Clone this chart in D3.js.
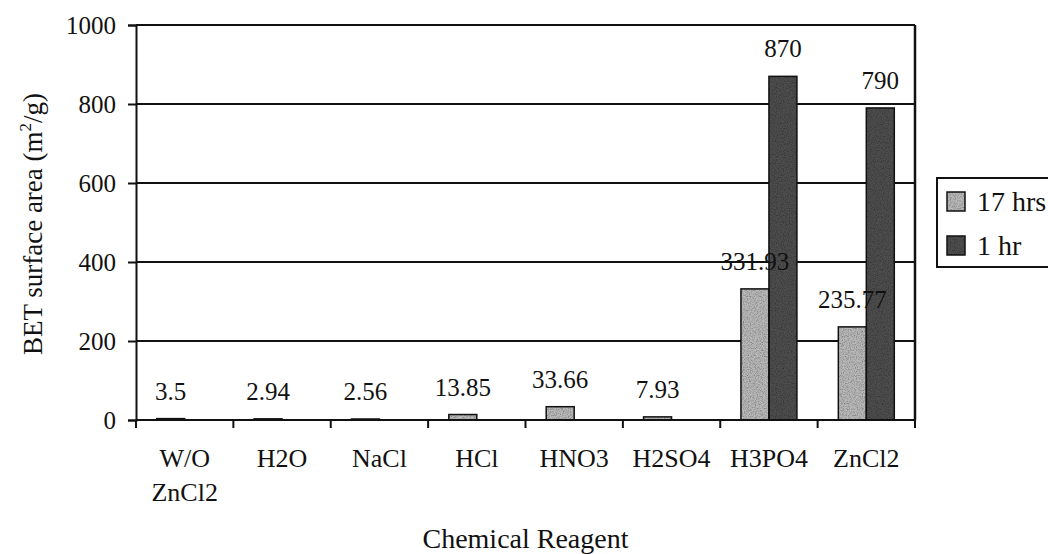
<!DOCTYPE html>
<html>
<head>
<meta charset="utf-8">
<script src="https://cdn.jsdelivr.net/npm/d3@7"></script>
<style>
  html, body { margin: 0; padding: 0; background: #fff; }
  svg { display: block; }
  text { font-family: "Liberation Serif", "DejaVu Serif", serif; fill: #111; }
</style>
</head>
<body>
<svg id="chart" width="1048" height="554"></svg>
<script>
// Chemical reagents (two-line labels split on "\n")
const categories = ["W/O\nZnCl2", "H2O", "NaCl", "HCl", "HNO3", "H2SO4", "H3PO4", "ZnCl2"];
// BET surface area (m2/g) per activation time
const series = ["17 hrs", "1 hr"];
const values17h = [3.5, 2.94, 2.56, 13.85, 33.66, 7.93, 331.93, 235.77];
const values1h  = [null, null, null, null, null, null, 870, 790];
const yTicks = [0, 200, 400, 600, 800, 1000];

const fills = { "17 hrs": "#b9b9b9", "1 hr": "#4e4e4e" };

const svg = d3.select("#chart");
const plot = { left: 136, right: 915, top: 25, bottom: 420 };

// stippled print texture for the bar fills
const defs = svg.append("defs");
const grain = defs.append("filter").attr("id", "grain")
  .attr("x", 0).attr("y", 0).attr("width", 1).attr("height", 1);
grain.append("feTurbulence").attr("type", "fractalNoise")
  .attr("baseFrequency", 0.85).attr("numOctaves", 2).attr("seed", 3).attr("result", "noise");
grain.append("feColorMatrix").attr("in", "noise").attr("type", "matrix")
  .attr("values", "0 0 0 0 0  0 0 0 0 0  0 0 0 0 0  0 0 0 -1.2 0.75").attr("result", "dots");
grain.append("feComposite").attr("in", "dots").attr("in2", "SourceGraphic")
  .attr("operator", "in").attr("result", "dotsIn");
grain.append("feComposite").attr("in", "dotsIn").attr("in2", "SourceGraphic").attr("operator", "over");

const x = d3.scaleBand().domain(categories).range([plot.left, plot.right]).paddingInner(0).paddingOuter(0);
const xSub = d3.scaleBand().domain(series).range([0, x.bandwidth()]).paddingInner(0).paddingOuter(0.74);
const y = d3.scaleLinear().domain([0, 1000]).range([plot.bottom, plot.top]);

// horizontal gridlines
svg.append("g").selectAll("line").data(yTicks.filter(d => d > 0)).join("line")
  .attr("x1", plot.left).attr("x2", plot.right)
  .attr("y1", d => y(d)).attr("y2", d => y(d))
  .attr("stroke", "#111").attr("stroke-width", 2);

// right border of plot area
svg.append("line").attr("x1", plot.right).attr("x2", plot.right)
  .attr("y1", plot.top).attr("y2", plot.bottom)
  .attr("stroke", "#111").attr("stroke-width", 2.5);

// bars
const rows = [];
categories.forEach((c, i) => {
  rows.push({ cat: c, s: "17 hrs", v: values17h[i] });
  if (values1h[i] != null) rows.push({ cat: c, s: "1 hr", v: values1h[i] });
});
const barG = svg.append("g");
barG.selectAll("rect.fill").data(rows).join("rect").attr("class", "fill")
  .attr("x", d => x(d.cat) + xSub(d.s))
  .attr("width", xSub.bandwidth())
  .attr("y", d => y(d.v))
  .attr("height", d => y(0) - y(d.v))
  .attr("fill", d => fills[d.s])
  .attr("filter", "url(#grain)");
barG.selectAll("rect.edge").data(rows).join("rect").attr("class", "edge")
  .attr("x", d => x(d.cat) + xSub(d.s))
  .attr("width", xSub.bandwidth())
  .attr("y", d => y(d.v))
  .attr("height", d => y(0) - y(d.v))
  .attr("fill", "none")
  .attr("stroke", "#111").attr("stroke-width", 1.5);

// value labels
svg.append("g").selectAll("text").data(rows).join("text")
  .attr("x", d => x(d.cat) + xSub(d.s) + xSub.bandwidth() / 2)
  .attr("y", d => y(d.v) - 19)
  .attr("text-anchor", "middle")
  .attr("font-size", 25)
  .text(d => d.v);

// y axis
const yAxis = d3.axisLeft(y).tickValues(yTicks).tickSize(8).tickPadding(12).tickFormat(d3.format("d"));
const gy = svg.append("g").attr("transform", `translate(${plot.left},0)`).call(yAxis)
  .attr("font-family", null).attr("font-size", null);
gy.select(".domain").attr("stroke", "#111").attr("stroke-width", 2);
gy.selectAll(".tick line").attr("stroke", "#111").attr("stroke-width", 2);
gy.selectAll(".tick text").attr("font-size", 25).attr("fill", "#111");

// x axis: baseline plus ticks at category boundaries
const bounds = categories.map(c => x(c)).concat([plot.right]);
svg.append("line").attr("x1", plot.left).attr("x2", plot.right)
  .attr("y1", plot.bottom).attr("y2", plot.bottom)
  .attr("stroke", "#111").attr("stroke-width", 2);
svg.append("g").selectAll("line").data(bounds).join("line")
  .attr("x1", d => d).attr("x2", d => d)
  .attr("y1", plot.bottom).attr("y2", plot.bottom + 8)
  .attr("stroke", "#111").attr("stroke-width", 2);

// category labels
const catLabels = svg.append("g").selectAll("text").data(categories).join("text")
  .attr("text-anchor", "middle")
  .attr("font-size", 26)
  .attr("x", d => x(d) + x.bandwidth() / 2)
  .attr("y", 467);
catLabels.each(function(d) {
  const t = d3.select(this);
  d.split("\n").forEach((line, i) => {
    t.append("tspan").attr("x", x(d) + x.bandwidth() / 2).attr("dy", i === 0 ? 0 : 34).text(line);
  });
});

// axis titles
svg.append("text")
  .attr("x", (plot.left + plot.right) / 2).attr("y", 548)
  .attr("text-anchor", "middle").attr("font-size", 28)
  .text("Chemical Reagent");

const yTitle = svg.append("text")
  .attr("transform", "translate(42,224) rotate(-90)")
  .attr("text-anchor", "middle").attr("font-size", 27).attr("fill", "#333");
yTitle.append("tspan").text("BET surface area  (m");
yTitle.append("tspan").attr("font-size", 17).attr("dy", -11).text("2");
yTitle.append("tspan").attr("dy", 11).text("/g)");

// legend
const lg = svg.append("g");
lg.append("rect").attr("x", 937).attr("y", 178).attr("width", 120).attr("height", 89)
  .attr("fill", "#fff").attr("stroke", "#111").attr("stroke-width", 2);
const items = lg.selectAll("g").data(series).join("g")
  .attr("transform", (d, i) => `translate(947,${192 + i * 44})`);
items.append("rect").attr("width", 18).attr("height", 19)
  .attr("fill", d => fills[d]).attr("filter", "url(#grain)");
items.append("rect").attr("width", 18).attr("height", 19)
  .attr("fill", "none").attr("stroke", "#111").attr("stroke-width", 1.5);
items.append("text").attr("x", 30).attr("y", 19).attr("font-size", 28).text(d => d);
</script>
</body>
</html>
